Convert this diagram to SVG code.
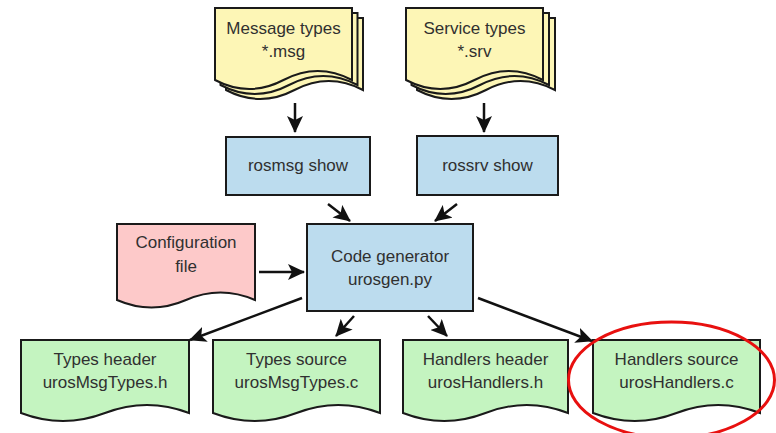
<svg xmlns="http://www.w3.org/2000/svg" width="776" height="433" viewBox="0 0 776 433">
  <style>
    .lbl { font-family: "Liberation Sans", Arial, sans-serif; font-size: 17px; fill: #303030; text-anchor: middle; }
    .shape { stroke: #1a1a1a; stroke-width: 2; stroke-linejoin: miter; }
    .yellow { fill: #fdf6b6; }
    .blue { fill: #bcdcee; }
    .pink { fill: #fdc9c9; }
    .green { fill: #c4f4c0; }
    .edge { fill: none; stroke: #111; stroke-width: 2.5; marker-end: url(#arrow); }
  </style>
  <defs>
    <marker id="arrow" markerUnits="userSpaceOnUse" markerWidth="18" markerHeight="16" refX="16" refY="8" orient="auto">
      <path d="M0,0 L17,8 L0,16 L4,8 Z" fill="#111"/>
    </marker>
  </defs>
  <rect width="776" height="433" fill="#ffffff"/>

  <!-- message definitions (stacked pages) -->
  <g id="msg-types">
    <path class="shape yellow" d="M226,18 H363 V90 Q328.75,72 294.5,90 T226,90 Z"/>
    <path class="shape yellow" d="M220.5,13 H357.5 V85 Q323.25,67 289,85 T220.5,85 Z"/>
    <path class="shape yellow" d="M215,8 H352 V80 Q317.75,62 283.5,80 T215,80 Z"/>
    <text class="lbl" x="283.5" y="34">Message types</text>
    <text class="lbl" x="283.5" y="57">*.msg</text>
  </g>

  <!-- service definitions (stacked pages) -->
  <g id="srv-types">
    <path class="shape yellow" d="M417,18 H555 V90 Q520.5,72 486,90 T417,90 Z"/>
    <path class="shape yellow" d="M411.5,13 H549 V85 Q514.5,67 480,85 T411.5,85 Z"/>
    <path class="shape yellow" d="M406,8 H543 V80 Q508.75,62 474.5,80 T406,80 Z"/>
    <text class="lbl" x="474.5" y="34">Service types</text>
    <text class="lbl" x="474.5" y="57">*.srv</text>
  </g>

  <g id="rosmsg-show">
    <rect class="shape blue" x="226" y="137" width="144" height="58"/>
    <text class="lbl" x="298" y="171">rosmsg show</text>
  </g>

  <g id="rossrv-show">
    <rect class="shape blue" x="417" y="136" width="141" height="59"/>
    <text class="lbl" x="487.5" y="171">rossrv show</text>
  </g>

  <g id="config-file">
    <path class="shape pink" d="M117,224 H255 V300 Q220.5,285 186,300 T117,300 Z"/>
    <text class="lbl" x="186" y="248">Configuration</text>
    <text class="lbl" x="186" y="272">file</text>
  </g>

  <g id="code-generator">
    <rect class="shape blue" x="307" y="224" width="166" height="87"/>
    <text class="lbl" x="390" y="262">Code generator</text>
    <text class="lbl" x="390" y="285">urosgen.py</text>
  </g>

  <g id="types-header">
    <path class="shape green" d="M21,340 H189 V413 Q147,397 105,413 T21,413 Z"/>
    <text class="lbl" x="105" y="365">Types header</text>
    <text class="lbl" x="105" y="388">urosMsgTypes.h</text>
  </g>

  <g id="types-source">
    <path class="shape green" d="M213,340 H380 V413 Q338.25,397 296.5,413 T213,413 Z"/>
    <text class="lbl" x="296.5" y="365">Types source</text>
    <text class="lbl" x="296.5" y="388">urosMsgTypes.c</text>
  </g>

  <g id="handlers-header">
    <path class="shape green" d="M403,340 H568 V413 Q526.75,397 485.5,413 T403,413 Z"/>
    <text class="lbl" x="485.5" y="365">Handlers header</text>
    <text class="lbl" x="485.5" y="388">urosHandlers.h</text>
  </g>

  <g id="handlers-source">
    <path class="shape green" d="M593,340 H760 V413 Q718.25,397 676.5,413 T593,413 Z"/>
    <text class="lbl" x="676.5" y="365">Handlers source</text>
    <text class="lbl" x="676.5" y="388">urosHandlers.c</text>
  </g>

  <!-- highlight around the handlers source output -->
  <ellipse id="highlight" cx="671.5" cy="380" rx="103" ry="58" fill="none" stroke="#e8100f" stroke-width="3"/>

  <g id="connectors">
    <line class="edge" x1="295" y1="103" x2="295" y2="132"/>
    <line class="edge" x1="484" y1="103" x2="484" y2="132"/>
    <line class="edge" x1="328" y1="204" x2="350" y2="221"/>
    <line class="edge" x1="457" y1="204" x2="435" y2="221"/>
    <line class="edge" x1="259" y1="272" x2="304" y2="272"/>
    <line class="edge" x1="302" y1="298" x2="190" y2="340"/>
    <line class="edge" x1="354" y1="316" x2="336" y2="336"/>
    <line class="edge" x1="428" y1="316" x2="447" y2="336"/>
    <line class="edge" x1="478" y1="298" x2="592" y2="341"/>
  </g>
</svg>
